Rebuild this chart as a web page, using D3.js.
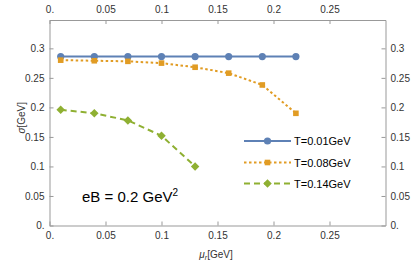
<!DOCTYPE html>
<html><head><meta charset="utf-8">
<script src="https://cdn.jsdelivr.net/npm/d3@7"></script>
<style>body{margin:0;background:#fff}svg{display:block}</style>
</head><body>
<script>
const xTicks = [0, 0.05, 0.1, 0.15, 0.2, 0.25];
const xTickLabels = ["0.", "0.05", "0.1", "0.15", "0.2", "0.25"];
const yTicks = [0, 0.05, 0.1, 0.15, 0.2, 0.25, 0.3];
const yTickLabels = ["0.", "0.05", "0.1", "0.15", "0.2", "0.25", "0.3"];
const seriesNames = ["T=0.01GeV", "T=0.08GeV", "T=0.14GeV"];
const muT001 = [0.01, 0.04, 0.07, 0.10, 0.13, 0.16, 0.19, 0.22];
const sigT001 = [0.286, 0.286, 0.286, 0.286, 0.286, 0.286, 0.286, 0.286];
const muT008 = [0.01, 0.04, 0.07, 0.10, 0.13, 0.16, 0.19, 0.22];
const sigT008 = [0.280, 0.279, 0.278, 0.275, 0.268, 0.258, 0.238, 0.190];
const muT014 = [0.01, 0.04, 0.07, 0.10, 0.13];
const sigT014 = [0.196, 0.190, 0.178, 0.152, 0.100];

const W = 415, H = 268;
const m = {l: 49.5, r: 385.5, t: 20, b: 225.5};
const svg = d3.select("body").append("svg").attr("width", W).attr("height", H)
  .style("font-family", "Liberation Sans, Arial, sans-serif");
const x = d3.scaleLinear().domain([0, 0.3]).range([m.l, m.r]);
const y = d3.scaleLinear().domain([0, 0.348]).range([m.b, m.t]);

const frameCol = "#999", labCol = "#333";
const fmtX = d => xTickLabels[xTicks.indexOf(d)];
const fmtY = d => yTickLabels[yTicks.indexOf(d)];

function styleAxis(g){
  g.select(".domain").attr("stroke", frameCol);
  g.selectAll(".tick line").attr("stroke", frameCol);
  g.selectAll(".tick text").attr("fill", labCol).style("font-size", "10px");
}
svg.append("g").attr("transform", `translate(0,${m.b})`)
  .call(d3.axisBottom(x).tickValues(xTicks).tickFormat(fmtX).tickSizeInner(-4).tickSizeOuter(0).tickPadding(6))
  .call(styleAxis);
svg.append("g").attr("transform", `translate(0,${m.t})`)
  .call(d3.axisTop(x).tickValues(xTicks).tickFormat(fmtX).tickSizeInner(-4).tickSizeOuter(0).tickPadding(7))
  .call(styleAxis);
svg.append("g").attr("transform", `translate(${m.l},0)`)
  .call(d3.axisLeft(y).tickValues(yTicks).tickFormat(fmtY).tickSizeInner(-4).tickSizeOuter(0).tickPadding(5))
  .call(styleAxis);
svg.append("g").attr("transform", `translate(${m.r},0)`)
  .call(d3.axisRight(y).tickValues(yTicks).tickFormat(fmtY).tickSizeInner(-4).tickSizeOuter(0).tickPadding(5))
  .call(styleAxis);

const colors = ["#5E81B5", "#E19C24", "#8FB032"];
const dashes = [null, "2.5,2.5", "6,4"];
const series = [
  {mu: muT001, s: sigT001},
  {mu: muT008, s: sigT008},
  {mu: muT014, s: sigT014}
];
const line = d3.line().x(d => x(d[0])).y(d => y(d[1]));
function marker(g, k, cx, cy){
  if (k === 0) g.append("circle").attr("cx", cx).attr("cy", cy).attr("r", 3.6).attr("fill", colors[0]);
  else if (k === 1) g.append("rect").attr("x", cx - 2.8).attr("y", cy - 2.8).attr("width", 5.6).attr("height", 5.6).attr("fill", colors[1]);
  else g.append("path").attr("d", d3.symbol(d3.symbolDiamond2, 46)()).attr("transform", `translate(${cx},${cy})`).attr("fill", colors[2]);
}
series.forEach((sr, k) => {
  const pts = sr.mu.map((v, i) => [v, sr.s[i]]);
  svg.append("path").attr("d", line(pts)).attr("fill", "none").attr("stroke", colors[k])
    .attr("stroke-width", 2).attr("stroke-dasharray", dashes[k]);
  const g = svg.append("g");
  pts.forEach(p => marker(g, k, x(p[0]), y(p[1])));
});

// legend
const legY = [141, 162.5, 183.5];
seriesNames.forEach((n, k) => {
  svg.append("line").attr("x1", 244).attr("x2", 291).attr("y1", legY[k]).attr("y2", legY[k])
    .attr("stroke", colors[k]).attr("stroke-width", 2).attr("stroke-dasharray", dashes[k]);
  marker(svg, k, 267.5, legY[k]);
  svg.append("text").attr("x", 294).attr("y", legY[k] + 4).text(n)
    .attr("fill", "#000").style("font-size", "11px");
});

// annotation
const ann = svg.append("text").attr("x", 82).attr("y", 202).style("font-size", "15px").attr("fill", "#000");
ann.append("tspan").text("eB = 0.2 GeV");
ann.append("tspan").attr("dy", -6).style("font-size", "10px").text("2");

// axis labels
svg.append("text").attr("transform", `translate(25,${(m.t + m.b)/2 - 5}) rotate(-90)`)
  .attr("text-anchor", "middle").style("font-size", "10px").attr("fill", labCol)
  .html('<tspan font-style="italic">σ</tspan>[GeV]');
svg.append("text").attr("x", 216).attr("y", 258).attr("text-anchor", "middle")
  .style("font-size", "10px").attr("fill", labCol)
  .html('<tspan font-style="italic">μ</tspan><tspan font-style="italic" font-size="7px" dy="2">r</tspan><tspan dy="-2">[GeV]</tspan>');
</script>
</body></html>
